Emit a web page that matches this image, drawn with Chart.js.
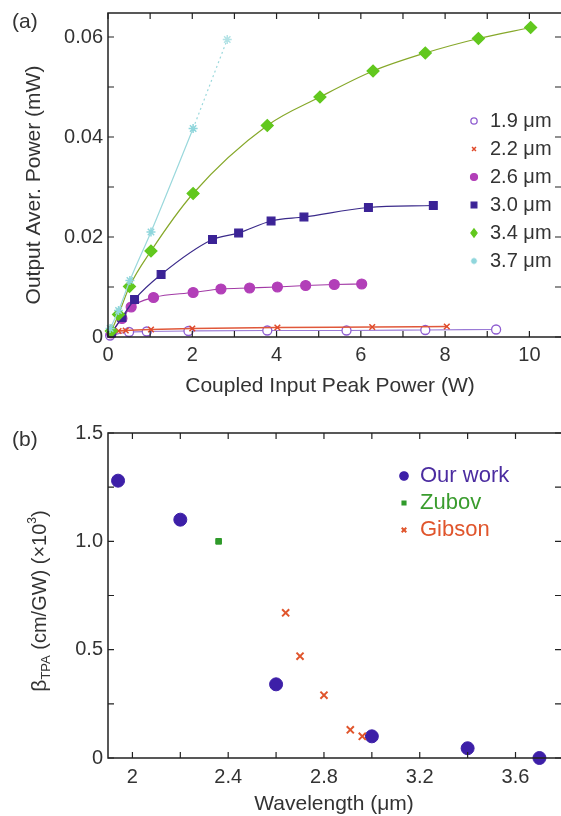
<!DOCTYPE html>
<html>
<head>
<meta charset="utf-8">
<script src="https://cdn.jsdelivr.net/npm/chart.js@4"></script>
<style>
body { margin: 0; background: #fff; }
#wrap { position: relative; width: 561px; height: 816px; overflow: hidden; }
canvas { position: absolute; left: 0; }
</style>
</head>
<body>
<div id="wrap">
<canvas id="chartA" width="561" height="400" style="top:0"></canvas>
<canvas id="chartB" width="561" height="416" style="top:400px"></canvas>
</div>
<script>
// ---- panel (a): moc wyjsciowa vs moc wejsciowa ----
const pw19 = [0.05, 0.5, 0.92, 1.91, 3.78, 5.66, 7.53, 9.21];
const out19 = [0.0003, 0.0010, 0.0011, 0.0012, 0.0013, 0.0013, 0.0014, 0.0015];
const pw22 = [0.1, 0.25, 0.42, 1.02, 2.0, 4.02, 6.27, 8.04];
const out22 = [0.0008, 0.0012, 0.0013, 0.0015, 0.0017, 0.0019, 0.0020, 0.0021];
const pw26 = [0.08, 0.33, 0.55, 1.08, 2.02, 2.68, 3.36, 4.02, 4.69, 5.37, 6.02];
const out26 = [0.0008, 0.0037, 0.0060, 0.0079, 0.0089, 0.0096, 0.0098, 0.0100, 0.0103, 0.0105, 0.0106];
const pw30 = [0.08, 0.33, 0.63, 1.26, 2.48, 3.10, 3.87, 4.65, 6.18, 7.72];
const out30 = [0.0008, 0.0039, 0.0075, 0.0125, 0.0195, 0.0208, 0.0232, 0.0240, 0.0259, 0.0263];
const pw34 = [0.08, 0.25, 0.51, 1.02, 2.02, 3.78, 5.03, 6.29, 7.53, 8.79, 10.03];
const out34 = [0.0012, 0.0045, 0.0101, 0.0172, 0.0287, 0.0423, 0.0480, 0.0532, 0.0568, 0.0597, 0.0619];
const pw37 = [0.05, 0.25, 0.52, 1.02, 2.02];
const out37 = [0.0017, 0.0053, 0.0113, 0.0210, 0.0417];
const pw37ext = [2.02, 2.83];   // kropkowana kontynuacja
const out37ext = [0.0417, 0.0595];
const seriesA = ['1.9 μm', '2.2 μm', '2.6 μm', '3.0 μm', '3.4 μm', '3.7 μm'];

const powerTicks = [0, 1, 2, 3, 4, 5, 6, 7, 8, 9, 10];
const powerLabels = ['0', '', '2', '', '4', '', '6', '', '8', '', '10'];
const outTicks = [0, 0.01, 0.02, 0.03, 0.04, 0.05, 0.06];
const outLabels = ['0', '', '0.02', '', '0.04', '', '0.06'];

// ---- panel (b): beta TPA vs dlugosc fali ----
const ourWl = [1.94, 2.20, 2.60, 3.00, 3.40, 3.70];
const ourBeta = [1.28, 1.10, 0.34, 0.10, 0.045, 0.0];
const zubovWl = [2.36];
const zubovBeta = [1.0];
const gibsonWl = [2.64, 2.70, 2.80, 2.91, 2.96];
const gibsonBeta = [0.67, 0.47, 0.29, 0.13, 0.10];
const seriesB = ['Our work', 'Zubov', 'Gibson'];

const wlTicks = [2.0, 2.2, 2.4, 2.6, 2.8, 3.0, 3.2, 3.4, 3.6];
const wlLabels = ['2', '', '2.4', '', '2.8', '', '3.2', '', '3.6'];
const betaTicks = [0, 0.25, 0.5, 0.75, 1.0, 1.25, 1.5];
const betaLabels = ['0', '', '0.5', '', '1.0', '', '1.5'];

const FONT = "'Liberation Sans', Arial, sans-serif";
const TXT = '#333';

function pts(xs, ys) {
    return xs.map((x, i) => ({ x: x, y: ys[i] }));
}

// rysuje pojedynczy marker (dla legendy)
function drawMarker(ctx, m, x, y) {
    const r = m.r;
    ctx.save();
    ctx.fillStyle = m.fill;
    ctx.strokeStyle = m.color;
    ctx.lineWidth = m.lw || 1.2;
    ctx.beginPath();
    if (m.style === 'circle') {
        ctx.arc(x, y, r, 0, Math.PI * 2);
        ctx.fill(); ctx.stroke();
    } else if (m.style === 'rect') {
        ctx.rect(x - r * 0.75, y - r * 0.75, r * 1.5, r * 1.5);
        ctx.fill(); ctx.stroke();
    } else if (m.style === 'rectRot') {
        ctx.moveTo(x, y - r); ctx.lineTo(x + r * 0.75, y); ctx.lineTo(x, y + r); ctx.lineTo(x - r * 0.75, y); ctx.closePath();
        ctx.fill(); ctx.stroke();
    } else if (m.style === 'crossRot') {
        const d = r * 0.7;
        ctx.moveTo(x - d, y - d); ctx.lineTo(x + d, y + d);
        ctx.moveTo(x + d, y - d); ctx.lineTo(x - d, y + d);
        ctx.stroke();
    } else if (m.style === 'star') {
        const d = r * 0.7;
        ctx.moveTo(x - r, y); ctx.lineTo(x + r, y);
        ctx.moveTo(x, y - r); ctx.lineTo(x, y + r);
        ctx.moveTo(x - d, y - d); ctx.lineTo(x + d, y + d);
        ctx.moveTo(x + d, y - d); ctx.lineTo(x - d, y + d);
        ctx.stroke();
    }
    ctx.restore();
}

// tekst z indeksami (beta_TPA, x10^3), obracany
function drawRich(ctx, segs, cx, cy, rot) {
    ctx.save();
    ctx.translate(cx, cy);
    ctx.rotate(rot);
    let w = 0;
    segs.forEach(s => { ctx.font = s.size + 'px ' + FONT; s.w = ctx.measureText(s.t).width; w += s.w; });
    let x = -w / 2;
    ctx.textBaseline = 'middle';
    ctx.textAlign = 'left';
    segs.forEach(s => {
        ctx.font = s.size + 'px ' + FONT;
        ctx.fillStyle = s.color || TXT;
        ctx.fillText(s.t, x, s.dy || 0);
        x += s.w;
    });
    ctx.restore();
}

// ramka, wewnetrzne ticki, tytuly osi, legenda
function decor(o) {
    return {
        id: 'decor',
        afterDraw(chart) {
            const ctx = chart.ctx, a = chart.chartArea;
            const xs = chart.scales.x, ys = chart.scales.y;
            ctx.save();
            ctx.strokeStyle = '#222';
            ctx.lineWidth = 1.5;
            ctx.beginPath();
            ctx.moveTo(a.right, a.top); ctx.lineTo(a.left, a.top); ctx.lineTo(a.left, a.bottom); ctx.lineTo(a.right, a.bottom);
            ctx.stroke();
            ctx.lineWidth = 1.2;
            ctx.beginPath();
            xs.ticks.forEach(t => {
                const x = xs.getPixelForValue(t.value);
                ctx.moveTo(x, a.bottom); ctx.lineTo(x, a.bottom - 6);
                ctx.moveTo(x, a.top); ctx.lineTo(x, a.top + 6);
            });
            ys.ticks.forEach(t => {
                const y = ys.getPixelForValue(t.value);
                ctx.moveTo(a.left, y); ctx.lineTo(a.left + 6, y);
                ctx.moveTo(a.right, y); ctx.lineTo(a.right - 6, y);
            });
            ctx.stroke();

            ctx.fillStyle = TXT;
            ctx.textAlign = 'center';
            ctx.textBaseline = 'middle';
            ctx.font = o.titleSize + 'px ' + FONT;
            ctx.fillText(o.xTitle, o.xTitleX, o.xTitleY);
            ctx.textAlign = 'left';
            ctx.fillText(o.panel, o.panelX, o.panelY);
            drawRich(ctx, o.yTitle, o.yTitleX, o.yTitleY, -Math.PI / 2);

            o.legend.forEach((it, i) => {
                const y = o.legY + i * o.legStep;
                drawMarker(ctx, it.marker, o.legMarkX, y);
                ctx.font = o.legSize + 'px ' + FONT;
                ctx.fillStyle = it.textColor || TXT;
                ctx.textAlign = 'left';
                ctx.textBaseline = 'middle';
                ctx.fillText(it.label, o.legTextX, y);
            });
            ctx.restore();
        }
    };
}

function fixedTicks(values) {
    return function (scale) {
        scale.ticks = values.map(v => ({ value: v }));
    };
}

// stale rozmiary osi, bez dodatkowego paddingu od etykiet
function fitX(h) {
    return s => { s.height = h; s.paddingLeft = 0; s.paddingRight = 0; };
}
function fitY(w) {
    return s => { s.width = w; s.paddingTop = 0; s.paddingBottom = 0; };
}

// ---- wykres (a) ----
const stA = [
    { style: 'circle', color: '#8e5cd0', fill: '#fff', line: '#9a7ad6', r: 4.5, lw: 1.3 },
    { style: 'crossRot', color: '#e04a2a', fill: '#e04a2a', line: '#e0583a', r: 4, lw: 1.5 },
    { style: 'circle', color: '#b23fb8', fill: '#b23fb8', line: '#a23aa6', r: 5 },
    { style: 'rect', color: '#3b2396', fill: '#3b2396', line: '#3a2a8a', r: 5.5 },
    { style: 'rectRot', color: '#62c81e', fill: '#62c81e', line: '#86a82a', r: 6 },
    { style: 'star', color: '#8fd6dc', fill: '#8fd6dc', line: '#9ad8dc', r: 4.5, lw: 1.5 }
];
const xsA = [pw19, pw22, pw26, pw30, pw34, pw37];
const ysA = [out19, out22, out26, out30, out34, out37];

const dsA = seriesA.map((lab, i) => ({
    label: lab,
    data: pts(xsA[i], ysA[i]),
    showLine: true,
    borderColor: stA[i].line,
    borderWidth: i === 1 ? 1.6 : 1.2,
    pointStyle: stA[i].style,
    pointRadius: stA[i].r,
    pointBackgroundColor: stA[i].fill,
    pointBorderColor: stA[i].color,
    pointBorderWidth: stA[i].lw || 1.2,
    cubicInterpolationMode: 'monotone',
    clip: false
}));
dsA.push({
    label: '3.7 μm ext',
    data: pts(pw37ext, out37ext),
    showLine: true,
    borderColor: '#9ad8dc',
    borderWidth: 1.2,
    borderDash: [2, 3],
    pointStyle: 'star',
    pointRadius: [0, 4.5],
    pointBorderColor: '#b4e3e6',
    pointBorderWidth: 1.5,
    clip: false
});

new Chart(document.getElementById('chartA'), {
    type: 'scatter',
    data: { datasets: dsA.reverse() },
    options: {
        responsive: false,
        animation: false,
        layout: { autoPadding: false, padding: { top: 13, left: 0, right: 0, bottom: 0 } },
        plugins: { legend: { display: false }, tooltip: { enabled: false } },
        scales: {
            x: {
                type: 'linear', min: 0, max: 10.75,
                afterBuildTicks: fixedTicks(powerTicks),
                afterFit: fitX(63),
                grid: { display: false, drawTicks: false },
                border: { display: false },
                ticks: { autoSkip: false, maxRotation: 0, padding: 6, color: TXT, font: { family: FONT, size: 20 },
                    callback: (v, i) => powerLabels[i] }
            },
            y: {
                type: 'linear', min: 0, max: 0.0648,
                afterBuildTicks: fixedTicks(outTicks),
                afterFit: fitY(108),
                grid: { display: false, drawTicks: false },
                border: { display: false },
                ticks: { autoSkip: false, padding: 5, color: TXT, font: { family: FONT, size: 20 },
                    callback: (v, i) => outLabels[i] }
            }
        }
    },
    plugins: [decor({
        panel: '(a)', panelX: 12, panelY: 22,
        xTitle: 'Coupled Input Peak Power (W)', xTitleX: 330, xTitleY: 386, titleSize: 21,
        yTitle: [{ t: 'Output Aver. Power (mW)', size: 21 }], yTitleX: 34, yTitleY: 185,
        legend: seriesA.map((lab, i) => ({ label: lab, marker: Object.assign({}, stA[i], { r: stA[i].r * 0.7 }) })),
        legMarkX: 474, legTextX: 490, legY: 121, legStep: 28, legSize: 20
    })]
});

// ---- wykres (b) ----
const stB = [
    { style: 'circle', color: '#3d1fa8', fill: '#3d1fa8', r: 6.5, text: '#4b2ca0' },
    { style: 'rect', color: '#2f9a2a', fill: '#2f9a2a', r: 4, text: '#3a9c2e' },
    { style: 'crossRot', color: '#e0552c', fill: '#e0552c', r: 5, lw: 2, text: '#e0552c' }
];
const xsB = [ourWl, zubovWl, gibsonWl];
const ysB = [ourBeta, zubovBeta, gibsonBeta];

const dsB = seriesB.map((lab, i) => ({
    label: lab,
    data: pts(xsB[i], ysB[i]),
    showLine: false,
    pointStyle: stB[i].style,
    pointRadius: stB[i].r,
    pointBackgroundColor: stB[i].fill,
    pointBorderColor: stB[i].color,
    pointBorderWidth: stB[i].lw || 1,
    clip: false
}));

new Chart(document.getElementById('chartB'), {
    type: 'scatter',
    data: { datasets: dsB.reverse() },
    options: {
        responsive: false,
        animation: false,
        layout: { autoPadding: false, padding: { top: 33, left: 0, right: 0, bottom: 0 } },
        plugins: { legend: { display: false }, tooltip: { enabled: false } },
        scales: {
            x: {
                type: 'linear', min: 1.898, max: 3.79,
                afterBuildTicks: fixedTicks(wlTicks),
                afterFit: fitX(58),
                grid: { display: false, drawTicks: false },
                border: { display: false },
                ticks: { autoSkip: false, maxRotation: 0, padding: 7, color: TXT, font: { family: FONT, size: 20 },
                    callback: (v, i) => wlLabels[i] }
            },
            y: {
                type: 'linear', min: 0, max: 1.5,
                afterBuildTicks: fixedTicks(betaTicks),
                afterFit: fitY(108),
                grid: { display: false, drawTicks: false },
                border: { display: false },
                ticks: { autoSkip: false, padding: 5, color: TXT, font: { family: FONT, size: 20 },
                    callback: (v, i) => betaLabels[i] }
            }
        }
    },
    plugins: [decor({
        panel: '(b)', panelX: 12, panelY: 40,
        xTitle: 'Wavelength (μm)', xTitleX: 334, xTitleY: 404, titleSize: 21,
        yTitle: [
            { t: 'β', size: 21 },
            { t: 'TPA', size: 13, dy: 6 },
            { t: ' (cm/GW) (×10', size: 20 },
            { t: '3', size: 12, dy: -7 },
            { t: ')', size: 20 }
        ],
        yTitleX: 40, yTitleY: 201,
        legend: seriesB.map((lab, i) => ({ label: lab, textColor: stB[i].text, marker: Object.assign({}, stB[i], { r: stB[i].r * 0.65 }) })),
        legMarkX: 404, legTextX: 420, legY: 76, legStep: 27, legSize: 22
    })]
});
</script>
</body>
</html>
